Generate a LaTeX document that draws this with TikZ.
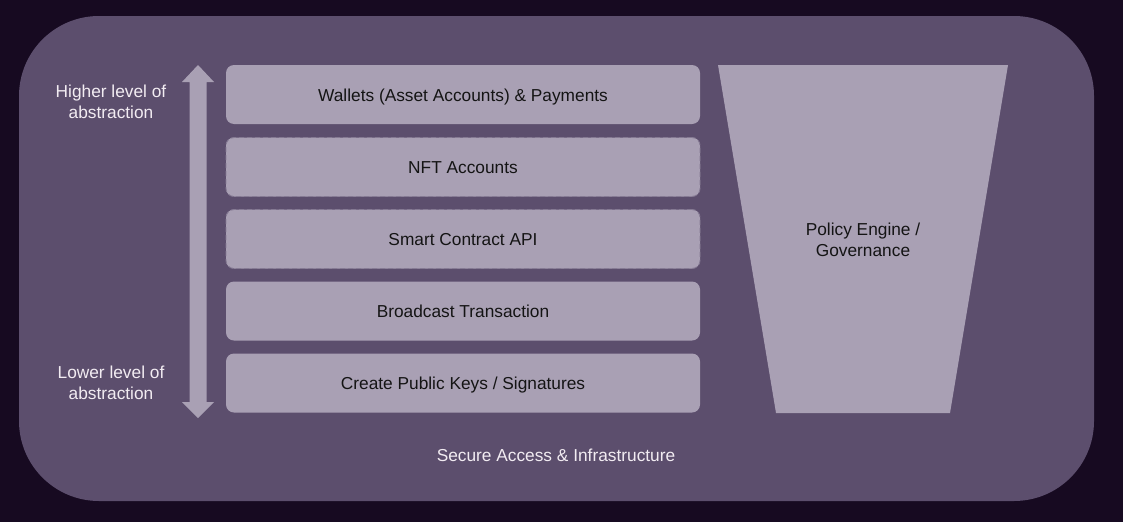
\documentclass[tikz,border=0pt]{standalone}
\usepackage{fontspec}
\setmainfont{Liberation Sans}
\definecolor{bgdark}{HTML}{170A21}
\definecolor{panel}{HTML}{5C4E6D}
\definecolor{boxfill}{HTML}{A9A0B4}
\definecolor{dashc}{HTML}{857A93}
\definecolor{lighttext}{HTML}{F2ECF2}
\definecolor{darktext}{HTML}{141414}
\begin{document}
\begin{tikzpicture}[x=1pt,y=-1pt,
  layerbox/.style={fill=boxfill, rounded corners=8pt, minimum width=474pt, minimum height=59pt, inner sep=0pt, text height=14.5pt, text depth=1.5pt, font=\fontsize{17.3}{20}\selectfont, text=darktext},
  dashbox/.style={layerbox, draw=dashc, dash pattern=on 5pt off 3pt, line width=0.9pt},
  lbl/.style={text=lighttext, font=\fontsize{17.3}{21}\selectfont, align=center}]
\useasboundingbox (0,0) rectangle (1123,522);
\fill[bgdark] (0,0) rectangle (1123,522);
\fill[panel, rounded corners=80pt] (19,16) rectangle (1094,501);
% arrow
\fill[boxfill] (198,65) -- (214,82) -- (206.5,82) -- (206.5,402) -- (214,402) -- (198,418) -- (182,402) -- (189.5,402) -- (189.5,82) -- (182,82) -- cycle;
\node[lbl] (hi) at (111,102) {Higher level of\\abstraction};
\node[lbl] (lo) at (111,383) {Lower level of\\abstraction};
% layers
\node[layerbox] (wal) at (463,94.5) {Wallets (Asset Accounts) \& Payments};
\node[dashbox] (nft) at (463,167) {NFT Accounts};
\node[dashbox] (sc) at (463,239) {Smart Contract API};
\node[layerbox] (bt) at (463,311) {Broadcast Transaction};
\node[layerbox] (pk) at (463,383) {Create Public Keys / Signatures};
% trapezoid
\fill[boxfill] (718,65) -- (1008,65) -- (950,413) -- (776,413) -- cycle;
\node[font=\fontsize{17.3}{21}\selectfont, text=darktext, align=center] (pe) at (863,240) {Policy Engine /\\Governance};
\node[lbl] (sa) at (556,455) {Secure Access \& Infrastructure};
\end{tikzpicture}
\end{document}
